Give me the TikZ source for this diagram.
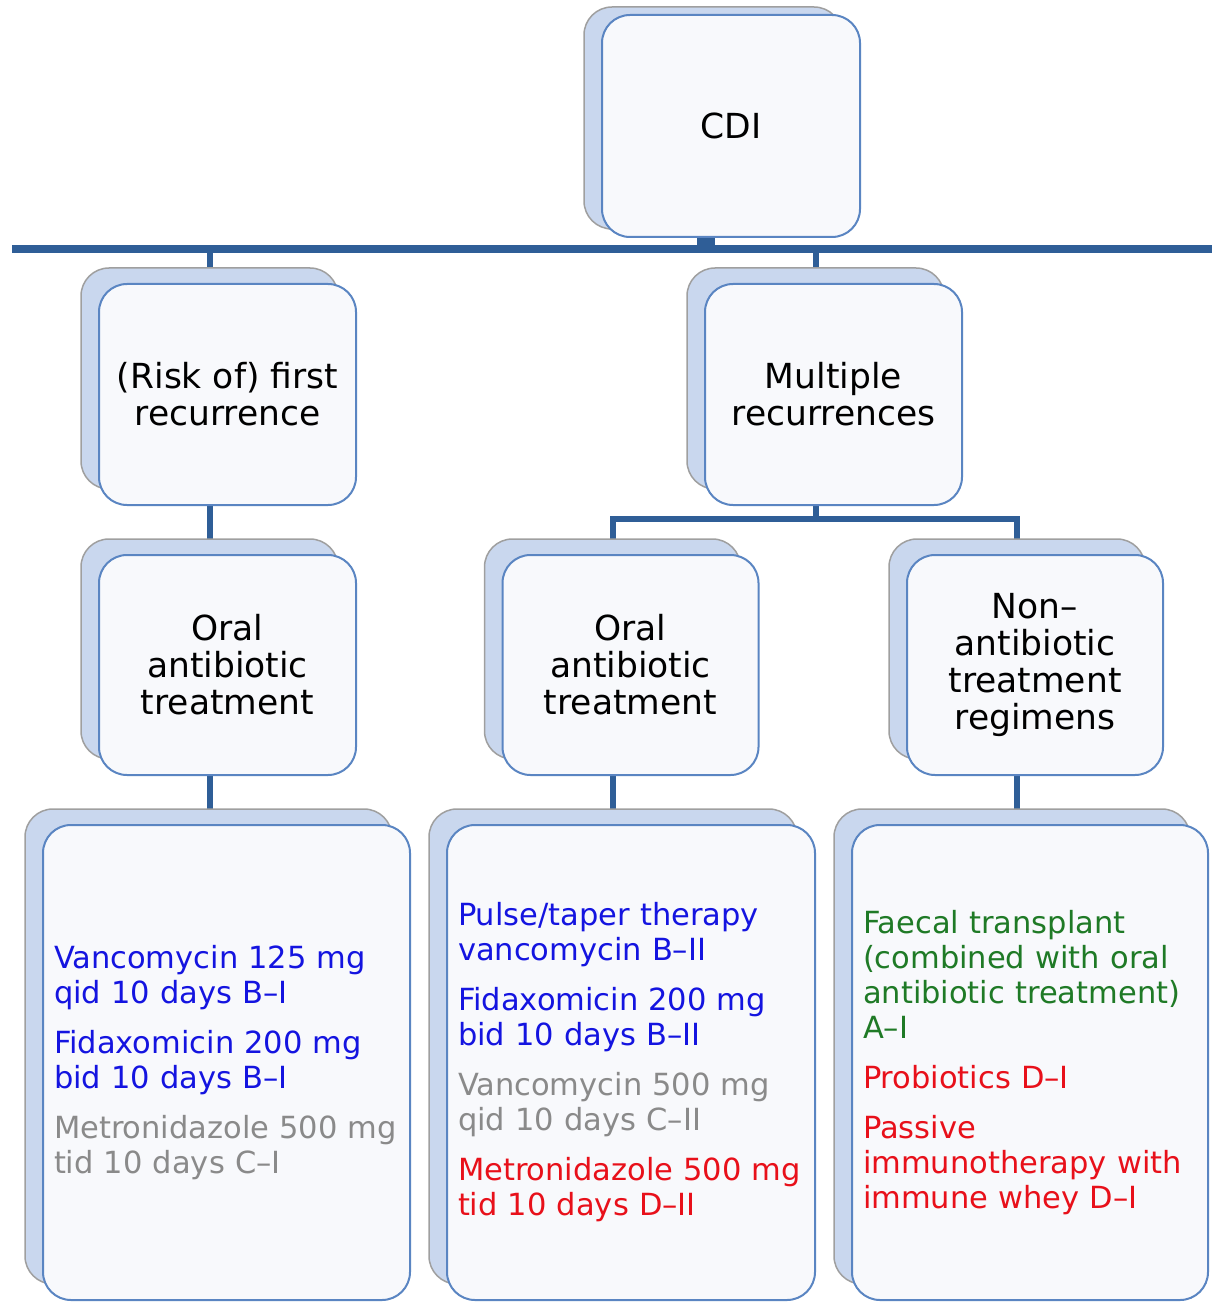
\documentclass[tikz,border=0pt]{standalone}
\usepackage{fontspec}
\setmainfont{DejaVu Sans}
\usetikzlibrary{shadows,backgrounds}

\definecolor{linkblue}{HTML}{2F5E97}
\definecolor{edgeblue}{HTML}{5A85C2}
\definecolor{backblue}{HTML}{C9D7EE}
\definecolor{cardfill}{HTML}{F8F9FC}
\definecolor{txtblue}{HTML}{1414E0}
\definecolor{txtgray}{HTML}{8A8A8A}
\definecolor{txtred}{HTML}{E8101A}
\definecolor{txtgreen}{HTML}{1F7A26}

\tikzset{
  card/.style={draw=edgeblue, line width=2pt, fill=cardfill, rounded corners=28pt,
    inner sep=0pt, align=center, font=\fontsize{34.5}{37}\selectfont,
    copy shadow={shadow xshift=-18pt, shadow yshift=#1, fill=backblue,
      draw=gray!75, line width=1.5pt}},
  card/.default=16pt,
  listcard/.style={card, minimum height=475pt, inner xsep=11pt, align=left,
    font=\fontsize{30.5}{35}\selectfont},
  link/.style={draw=linkblue, line width=6pt},
}

\begin{document}
\begin{tikzpicture}[x=1pt,y=-1pt]
    \useasboundingbox (0,0) rectangle (1212,1305);

    % Define the ends of the main bar
    \coordinate (barL) at (12,249);
    \coordinate (barR) at (1212,249);

    % Draw the top box and the two kinds of recurrence
    \node[card=8pt, minimum width=258pt, minimum height=222pt] (cdi) at (731,126) {CDI};
    \node[card, minimum width=257pt, minimum height=221pt] (first) at (227.5,394.5)
        {(Risk of) first\\recurrence};
    \node[card, minimum width=257pt, minimum height=221pt] (multi) at (833.5,394.5)
        {Multiple\\recurrences};

    % Draw the treatment boxes
    \node[card, minimum width=257pt, minimum height=220pt] (oralA) at (227.5,665)
        {Oral\\antibiotic\\treatment};
    \node[card, minimum width=256pt, minimum height=220pt] (oralB) at (630.5,665)
        {Oral\\antibiotic\\treatment};
    \node[card, minimum width=256pt, minimum height=220pt] (nonab) at (1035,665)
        {Non--\\antibiotic\\treatment\\regimens};

    % Draw the boxes with the regimens
    \node[listcard, text width=345pt] (listA) at (226.5,1062.5) {%
        \color{txtblue}Vancomycin 125 mg\\qid 10 days B--I\\[15pt]
        \color{txtblue}Fidaxomicin 200 mg\\bid 10 days B--I\\[15pt]
        \color{txtgray}Metronidazole 500 mg\\tid 10 days C--I};
    \node[listcard, text width=346pt] (listB) at (631,1062.5) {%
        \color{txtblue}Pulse/taper therapy\\vancomycin B--II\\[15pt]
        \color{txtblue}Fidaxomicin 200 mg\\bid 10 days B--II\\[15pt]
        \color{txtgray}Vancomycin 500 mg\\qid 10 days C--II\\[15pt]
        \color{txtred}Metronidazole 500 mg\\tid 10 days D--II};
    \node[listcard, text width=334pt] (listC) at (1030,1062.5) {%
        \color{txtgreen}Faecal transplant\\(combined with oral\\antibiotic treatment)\\A--I\\[15pt]
        \color{txtred}Probiotics D--I\\[15pt]
        \color{txtred}Passive\\immunotherapy with\\immune whey D--I};

    % Draw the connectors behind the boxes
    \begin{scope}[on background layer]
        \draw[link, line width=7.5pt] (barL) -- (barR);
        \draw[link, line width=18pt] ([xshift=-25pt]cdi.south) -- ([xshift=-25pt]cdi.south |- barL);
        \draw[link] ([xshift=-18pt]first.north |- barL) -- ([xshift=-18pt]first.north);
        \draw[link] ([xshift=-18pt]multi.north |- barL) -- ([xshift=-18pt]multi.north);
        \draw[link] ([xshift=-18pt]first.south) -- ([xshift=-18pt]oralA.north);
        \draw[link] ([xshift=-18pt]multi.south) -- ++(0,13) -| ([xshift=-18pt]oralB.north);
        \draw[link] ([xshift=-18pt]multi.south) -- ++(0,13) -| ([xshift=-18pt]nonab.north);
        \draw[link] ([xshift=-18pt]oralA.south) -- ([xshift=-18pt]oralA.south |- listA.north);
        \draw[link] ([xshift=-18pt]oralB.south) -- ([xshift=-18pt]oralB.south |- listB.north);
        \draw[link] ([xshift=-18pt]nonab.south) -- ([xshift=-18pt]nonab.south |- listC.north);
    \end{scope}

\end{tikzpicture}
\end{document}
